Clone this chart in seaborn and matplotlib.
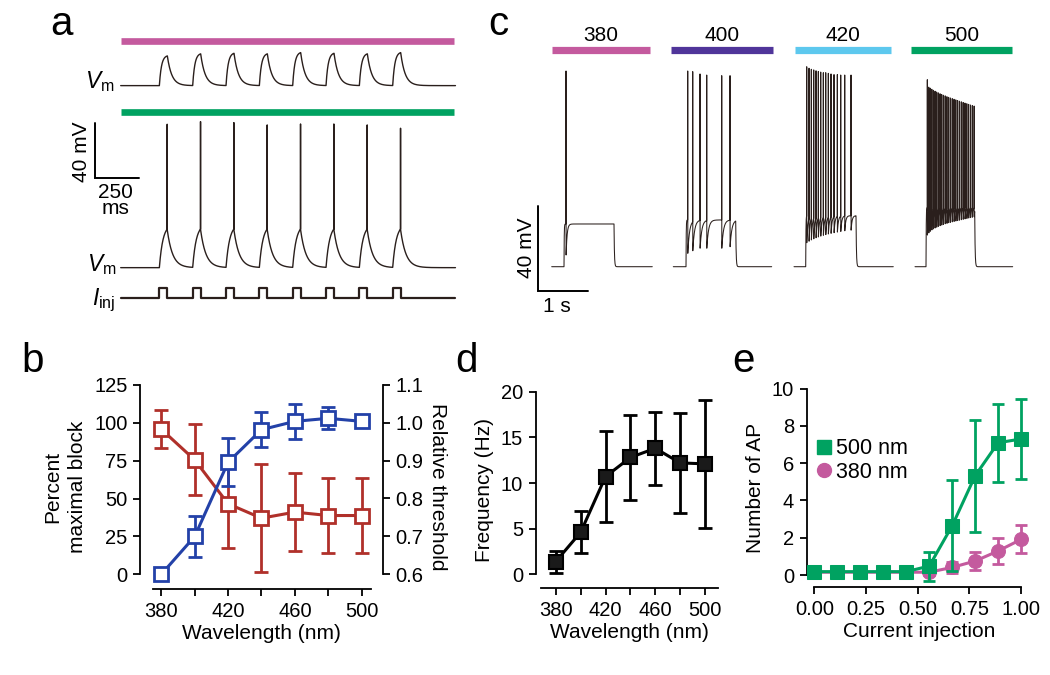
import numpy as np
import matplotlib
matplotlib.use("Agg")
import matplotlib.pyplot as plt
import seaborn as sns
from matplotlib.lines import Line2D

sns.set_theme(style="ticks")
plt.rcParams['font.family'] = ['Liberation Sans', 'DejaVu Sans']
plt.rcParams['mathtext.fontset'] = 'custom'
plt.rcParams['mathtext.rm'] = 'Liberation Sans'
plt.rcParams['mathtext.it'] = 'Liberation Sans:italic'
for k in ['text.color', 'axes.labelcolor', 'xtick.color', 'ytick.color', 'axes.edgecolor']:
    plt.rcParams[k] = 'black'

# ---------------- colours ----------------
MAG = '#C45A9E'
PURPLE = '#50359A'
CYAN = '#5DC8EE'
GREEN = '#00A261'
RED = '#B0302A'
BLUE = '#2341A8'
TRACE = '#2a1f1c'

# ---------------- panel b data ----------------
wavelength = [380, 400, 420, 440, 460, 480, 500]
block_mean = [0, 25, 74, 95.5, 101, 103, 101]
block_err = [0, 13.5, 16, 11.5, 11.5, 7.3, 0]
thresh_mean = [0.983, 0.902, 0.786, 0.748, 0.764, 0.755, 0.755]
thresh_err = [0.050, 0.094, 0.118, 0.142, 0.104, 0.100, 0.098]

# ---------------- panel d data ----------------
freq_mean = [1.4, 4.6, 10.7, 12.8, 13.8, 12.2, 12.1]
freq_err = [1.2, 2.3, 5.0, 4.7, 4.0, 5.5, 7.0]

# ---------------- panel e data ----------------
injection = [0.0, 0.111, 0.222, 0.333, 0.444, 0.556, 0.667, 0.778, 0.889, 1.0]
ap_500 = [0.18, 0.18, 0.18, 0.18, 0.18, 0.48, 2.65, 5.33, 7.1, 7.3]
ap_500_err = [0, 0, 0, 0, 0, 0.78, 2.45, 3.0, 2.1, 2.15]
ap_380 = [0.15, 0.15, 0.15, 0.15, 0.15, 0.15, 0.41, 0.75, 1.29, 1.91]
ap_380_err = [0, 0, 0, 0, 0, 0.15, 0.3, 0.48, 0.7, 0.75]

# ---------------- panel a data (ms, display mV) ----------------
a_trace_end = 1888
a_pulse_on = [218, 406, 594, 782, 970, 1158, 1346, 1534]
a_pulse_w = 45
a_upper_amp = [21.6, 23.1, 23.5, 23.1, 24.0, 23.5, 23.1, 24.0]
a_spike_pk = [104.3, 106.2, 105.5, 103.8, 104.5, 104.5, 103.8, 101.4]
a_hump = 28
a_spike_lat = 44
a_upper_base = 132.4
a_inj_base = -21.8
a_inj_h = 6.8

# ---------------- panel c data (ms, mV) ----------------
c_labels = ['380', '400', '420', '500']
c_colors = [MAG, PURPLE, CYAN, GREEN]
c_bar_start = [268, 2648, 5140, 7448]
c_bar_end = [2234, 4700, 7048, 9474]
c_start = [268, 2700, 5114, 7534]
c_end = [2280, 4668, 7100, 9488]
c_onset = [514, 2954, 5348, 7754]
c_offset = [1514, 3948, 6354, 8728]
c_level = [20.1, 22.0, 24.0, 28.0]
c_tau = [20, 35, 20, 12]
c_spk_t = [
    [40],
    [34, 134, 280, 414, 714, 880],
    [20, 66, 112, 160, 206, 252, 300, 352, 400, 452, 506, 566, 632, 700, 780, 906],
    [26, 55, 85, 116, 148, 180, 213, 246, 280, 314, 348, 383, 418, 453, 488, 524,
     560, 596, 632, 668, 705, 742, 779, 816, 853, 890, 926, 962],
]
c_spk_pk = [
    [92.1],
    [92.1, 91.8, 90.7, 90.2, 89.9, 89.9],
    [94.1, 93.4, 92.9, 92.6, 92.2, 91.9, 91.6, 91.3, 91.3, 91.0, 90.7, 90.4, 90.4, 90.2, 90.2, 90.2],
    [88.0, 84.5, 84.0, 83.5, 83.0, 82.6, 82.2, 81.8, 81.4, 81.0, 80.7, 80.4, 80.0, 79.7, 79.4,
     79.1, 78.8, 78.5, 78.2, 77.9, 77.6, 77.3, 77.0, 76.7, 76.4, 76.1, 75.8, 75.6],
]
c_spk_tr = [
    [5.5],
    [6.3, 7.5, 8.7, 8.7, 8.7, 9.4],
    [11.3, 12.0, 12.6, 13.1, 13.6, 14.0, 14.4, 14.8, 15.1, 15.4, 15.7, 16.0, 16.3, 16.6, 16.9, 17.2],
    [14.9, 15.9, 16.7, 17.3, 17.8, 18.2, 18.6, 19.0, 19.3, 19.6, 19.9, 20.2, 20.4, 20.7, 20.9,
     21.1, 21.3, 21.5, 21.7, 21.9, 22.1, 22.3, 22.5, 22.7, 22.9, 23.1, 23.3, 23.5],
]

W, H = 1050, 675
fig = plt.figure(figsize=(W / 100, H / 100), dpi=100)


def px_ax(l, t, r, b):
    return fig.add_axes([l / W, 1 - b / H, (r - l) / W, (b - t) / H])


FS = 14.5
FL = 15
TICK = dict(direction='out', length=5, width=1.3, labelsize=FS, pad=4)
LW_SP = 1.3

# ====================== panel a ======================
axa = px_ax(60, 10, 470, 310)
axa.set_xlim(-342.3, 1970)
axa.set_ylim(-30.8, 187.4)
axa.axis('off')

t_a = np.arange(0, a_trace_end + 0.25, 0.5)
up = np.zeros_like(t_a)
low = np.zeros_like(t_a)
for t0, amp in zip(a_pulse_on, a_upper_amp):
    t1 = t0 + a_pulse_w
    m1 = (t_a >= t0) & (t_a < t1)
    up[m1] += amp * (1 - np.exp(-(t_a[m1] - t0) / 12)) / (1 - np.exp(-a_pulse_w / 12))
    m2 = t_a >= t1
    up[m2] += amp * np.exp(-(t_a[m2] - t1) / 25)
    ts = t0 + a_spike_lat
    m1 = (t_a >= t0) & (t_a <= ts)
    low[m1] += a_hump * (1 - np.exp(-(t_a[m1] - t0) / 20)) / (1 - np.exp(-(ts - t0) / 20))
    m2 = t_a > ts
    low[m2] += a_hump * np.exp(-(t_a[m2] - ts) / 30)
tt, vv = t_a.copy(), low.copy()
for t0, pk in zip(a_pulse_on, a_spike_pk):
    ts = t0 + a_spike_lat + 0.25
    i = np.searchsorted(tt, ts)
    tt = np.insert(tt, i, ts)
    vv = np.insert(vv, i, pk)
axa.plot(t_a, up + a_upper_base, color=TRACE, lw=1.0)
axa.plot(tt, vv, color=TRACE, lw=1.0)

# injected current trace
inj_t, inj_v = [0], [a_inj_base]
for t0 in a_pulse_on:
    inj_t += [t0, t0, t0 + a_pulse_w, t0 + a_pulse_w]
    inj_v += [a_inj_base, a_inj_base + a_inj_h, a_inj_base + a_inj_h, a_inj_base]
inj_t.append(a_trace_end)
inj_v.append(a_inj_base)
axa.plot(inj_t, inj_v, color=TRACE, lw=1.6)

# light bars
axa.plot([2, 1880], [164.9, 164.9], color=MAG, lw=4.8, solid_capstyle='butt')
axa.plot([2, 1880], [112.9, 112.9], color=GREEN, lw=4.8, solid_capstyle='butt')

# scale bar 40 mV / 250 ms
sb_x, sb_y = -145, 65.5
axa.plot([sb_x, sb_x, sb_x + 250], [sb_y + 40, sb_y, sb_y], color='black', lw=1.4,
         solid_joinstyle='miter')
axa.text(-220, 84.4, '40 mV', rotation=90, ha='center', va='center', fontsize=FL)
axa.text(-28, 49, '250\nms', ha='center', va='center', fontsize=FL, linespacing=0.8)
axa.text(-34, 135, r'$V_{\mathrm{m}}$', ha='right', va='center', fontsize=FL + 1.5)
axa.text(-24, 2.5, r'$V_{\mathrm{m}}$', ha='right', va='center', fontsize=FL + 1.5)
axa.text(-30, -23.5, r'$I_{\mathrm{inj}}$', ha='right', va='center', fontsize=FL + 1.5)

# ====================== panel c ======================
axc = px_ax(490, 0, 1050, 320)
axc.set_xlim(-966, 10234)
axc.set_ylim(-25.08, 125.5)
axc.axis('off')


def c_trace(start, end, onset, offset, sp_t, sp_pk, sp_tr, level, tau):
    T = [np.array([start, onset])]
    V = [np.array([0.0, 0.0])]
    first = onset + sp_t[0]
    seg = np.arange(onset, first, 0.5)
    T.append(seg)
    V.append(level * (1 - np.exp(-(seg - onset) / 4)))
    for i in range(len(sp_t)):
        ts = onset + sp_t[i]
        nxt = onset + sp_t[i + 1] if i + 1 < len(sp_t) else offset
        T.append(np.array([ts + 0.5]))
        V.append(np.array([sp_pk[i]]))
        seg = np.arange(ts + 2, nxt, 0.5)
        T.append(seg)
        V.append(level - (level - sp_tr[i]) * np.exp(-(seg - ts - 2) / tau))
    v_off = V[-1][-1]
    seg = np.arange(offset, end, 0.5)
    T.append(seg)
    V.append(v_off * np.exp(-(seg - offset) / 8))
    return np.concatenate(T), np.concatenate(V)


for i in range(4):
    tt, vv = c_trace(c_start[i], c_end[i], c_onset[i], c_offset[i], c_spk_t[i],
                     c_spk_pk[i], c_spk_tr[i], c_level[i], c_tau[i])
    axc.plot(tt, vv, color=TRACE, lw=0.75)
    axc.plot([c_bar_start[i], c_bar_end[i]], [101.8, 101.8], color=c_colors[i], lw=5.2,
             solid_capstyle='butt')
    axc.text((c_bar_start[i] + c_bar_end[i]) / 2, 108.8, c_labels[i], ha='center',
             va='center', fontsize=FL)

axc.plot([0, 0, 1000], [28.7, -11.3, -11.3], color='black', lw=1.4, solid_joinstyle='miter')
axc.text(-232, 8.7, '40 mV', rotation=90, ha='center', va='center', fontsize=FL)
axc.text(368, -18.8, '1 s', ha='center', va='center', fontsize=FL)

# ====================== panel b ======================
axb = px_ax(152.7, 385, 371, 589.3)
axb2 = axb.twinx()
axb.set_xlim(374.85, 505.6)
axb.set_ylim(-9.9, 125)
axb2.set_ylim(0.56, 1.1)

axb2.errorbar(wavelength, thresh_mean, yerr=thresh_err, fmt='none', ecolor=RED,
              elinewidth=2, capsize=5, capthick=2, zorder=1, clip_on=False)
sns.lineplot(x=wavelength, y=thresh_mean, ax=axb2, color=RED, linewidth=2.2, marker='s',
             markersize=10, markerfacecolor='white', markeredgecolor=RED,
             markeredgewidth=2, zorder=3, clip_on=False)
axb.errorbar(wavelength, block_mean, yerr=block_err, fmt='none', ecolor=BLUE,
             elinewidth=2, capsize=5, capthick=2, zorder=1, clip_on=False)
sns.lineplot(x=wavelength, y=block_mean, ax=axb, color=BLUE, linewidth=2.2, marker='s',
             markersize=10, markerfacecolor='white', markeredgecolor=BLUE,
             markeredgewidth=2, zorder=3, clip_on=False)
axb.set_zorder(axb2.get_zorder() + 1)
axb.patch.set_visible(False)

for s in ['top', 'right']:
    axb.spines[s].set_visible(False)
for s in ['top', 'left', 'bottom']:
    axb2.spines[s].set_visible(False)
axb.spines['left'].set_position(('outward', 9.1))
axb.spines['left'].set_bounds(0, 125)
axb2.spines['right'].set_position(('outward', 8.6))
axb2.spines['right'].set_bounds(0.6, 1.1)
for sp in list(axb.spines.values()) + list(axb2.spines.values()):
    sp.set_linewidth(LW_SP)
axb.set_xticks([380, 400, 420, 440, 460, 480, 500])
axb.set_xticklabels(['380', '', '420', '', '460', '', '500'])
axb.set_yticks([0, 25, 50, 75, 100, 125])
axb2.set_yticks([0.6, 0.7, 0.8, 0.9, 1.0, 1.1])
axb2.set_yticklabels(['0.6', '0.7', '0.8', '0.9', '1.0', '1.1'])
axb.tick_params(**TICK)
axb2.tick_params(**TICK)
axb.set_xlabel('Wavelength (nm)', fontsize=FL, labelpad=2)
axb.set_ylabel('Percent\nmaximal block', fontsize=FL, labelpad=5, linespacing=1.4)
axb2.set_ylabel('Relative threshold', fontsize=FL, rotation=270, va='bottom', labelpad=3)

# ====================== panel d ======================
axd = px_ax(540.7, 391.7, 718, 588.3)
axd.set_xlim(367.9, 510.4)
axd.set_ylim(-1.53, 20)
axd.errorbar(wavelength, freq_mean, yerr=freq_err, fmt='none', ecolor='black',
             elinewidth=2, capsize=5, capthick=2, zorder=1, clip_on=False)
sns.lineplot(x=wavelength, y=freq_mean, ax=axd, color='black', linewidth=2.2, marker='s',
             markersize=10, markerfacecolor='#1a1a1a', markeredgecolor='black',
             markeredgewidth=1.5, zorder=3, clip_on=False)
for s in ['top', 'right']:
    axd.spines[s].set_visible(False)
axd.spines['left'].set_position(('outward', 3.6))
axd.spines['left'].set_bounds(0, 20)
for sp in axd.spines.values():
    sp.set_linewidth(LW_SP)
axd.set_xticks([380, 400, 420, 440, 460, 480, 500])
axd.set_xticklabels(['380', '', '420', '', '460', '', '500'])
axd.set_yticks([0, 5, 10, 15, 20])
axd.tick_params(**TICK)
axd.set_xlabel('Wavelength (nm)', fontsize=FL, labelpad=2)
axd.set_ylabel('Frequency (Hz)', fontsize=FL, labelpad=5)

# ====================== panel e ======================
axe = px_ax(806.7, 388.7, 1031, 587.3)
axe.set_xlim(-0.037, 1.048)
axe.set_ylim(-0.66, 10)
axe.errorbar(injection, ap_380, yerr=ap_380_err, fmt='none', ecolor=MAG,
             elinewidth=2, capsize=4.5, capthick=2, zorder=1, clip_on=False)
sns.lineplot(x=injection, y=ap_380, ax=axe, color=MAG, linewidth=2.2, marker='o',
             markersize=10, markerfacecolor=MAG, markeredgecolor=MAG, zorder=2, clip_on=False)
axe.errorbar(injection, ap_500, yerr=ap_500_err, fmt='none', ecolor=GREEN,
             elinewidth=2, capsize=4.5, capthick=2, zorder=3, clip_on=False)
sns.lineplot(x=injection, y=ap_500, ax=axe, color=GREEN, linewidth=2.2, marker='s',
             markersize=10, markerfacecolor=GREEN, markeredgecolor=GREEN, zorder=4,
             clip_on=False)
for s in ['top', 'right']:
    axe.spines[s].set_visible(False)
axe.spines['left'].set_bounds(0, 10)
axe.spines['bottom'].set_bounds(0, 1)
for sp in axe.spines.values():
    sp.set_linewidth(LW_SP)
axe.set_xticks([0, 0.25, 0.5, 0.75, 1.0])
axe.set_xticklabels(['0.00', '0.25', '0.50', '0.75', '1.00'])
axe.set_yticks([0, 2, 4, 6, 8, 10])
axe.tick_params(**TICK)
axe.set_xlabel('Current injection', fontsize=FL, labelpad=2)
axe.set_ylabel('Number of AP', fontsize=FL, labelpad=5)
handles = [Line2D([], [], ls='none', marker='s', markersize=10, color=GREEN),
           Line2D([], [], ls='none', marker='o', markersize=10, color=MAG)]
axe.legend(handles, ['500 nm', '380 nm'], loc='upper left', bbox_to_anchor=(0.04, 0.75),
           frameon=False, fontsize=FL + 0.5, handlelength=0.8, handletextpad=0.15,
           labelspacing=0.1, borderpad=0, borderaxespad=0)

# ====================== panel letters ======================
for lab, x, y in [('a', 61, 35), ('c', 498, 35), ('b', 33, 371.7), ('d', 466.5, 371.7),
                  ('e', 743, 371.7)]:
    fig.text(x / W, 1 - y / H, lab, fontsize=29, ha='center', va='baseline')

fig.savefig('out.png', dpi=100)
